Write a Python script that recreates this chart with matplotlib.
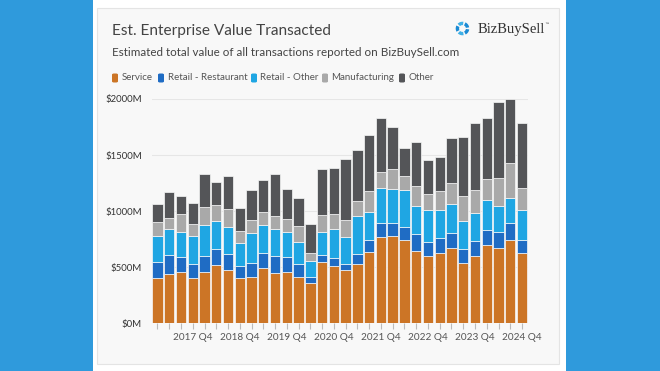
import numpy as np
import matplotlib.pyplot as plt
from matplotlib.patches import Rectangle, Wedge, FancyBboxPatch

# quarterly data, 2017 Q1 .. 2024 Q4 (values in $M)
quarters = [f"{y} Q{q}" for y in range(2017, 2025) for q in range(1, 5)]
service = [407, 440, 455, 401, 455, 523, 473, 407, 416, 496, 452, 461, 413, 363, 544, 514,
           476, 526, 639, 773, 779, 740, 648, 597, 630, 675, 535, 597, 695, 672, 746, 624]
restaurant = [143, 169, 139, 131, 145, 143, 145, 107, 122, 134, 145, 127, 119, 50, 65, 71,
              56, 89, 101, 119, 119, 119, 151, 131, 134, 133, 131, 140, 140, 145, 149, 119]
retail_other = [232, 229, 223, 247, 277, 249, 244, 202, 267, 247, 241, 229, 196, 146, 208, 253,
                241, 345, 253, 318, 297, 330, 250, 282, 244, 253, 246, 250, 262, 232, 225, 270]
manufacturing = [118, 98, 158, 107, 157, 137, 154, 107, 116, 116, 119, 116, 137, 71, 149, 137,
                 148, 131, 184, 136, 184, 125, 175, 146, 175, 190, 220, 202, 193, 247, 313, 197]
other = [161, 238, 163, 190, 297, 205, 301, 205, 268, 288, 371, 262, 255, 256, 410, 413,
         541, 451, 499, 482, 369, 246, 393, 300, 297, 404, 529, 600, 544, 674, 567, 573]

series = [("Service", service, "#cc7526"),
          ("Retail - Restaurant", restaurant, "#1f6cc4"),
          ("Retail - Other", retail_other, "#1fa6e3"),
          ("Manufacturing", manufacturing, "#a9a9a9"),
          ("Other", other, "#545558")]

W, H = 660, 371
fig = plt.figure(figsize=(6.6, 3.71), dpi=100)
fig.patch.set_facecolor("#2f9adc")

def px(x, y):
    return x / W, 1 - y / H

# white strip + card
fig.patches.append(Rectangle((93 / W, 0), (566 - 93) / W, 1, transform=fig.transFigure,
                             facecolor="white", edgecolor="none", zorder=-2))
fig.patches.append(Rectangle(px(97, 364), (559 - 97) / W, (364 - 8) / H, transform=fig.transFigure,
                             facecolor="#f8f8f8", edgecolor="#e4e4e4", linewidth=0.8, zorder=-1))

font = "Lato"
fig.text(*px(112, 31), "Est. Enterprise Value Transacted", fontsize=11.1, color="#444444",
         family=font, va="center", ha="left")
fig.text(*px(112, 52), "Estimated total value of all transactions reported on BizBuySell.com",
         fontsize=8.4, color="#444444", family=font, va="center", ha="left")

# legend
lx = [112, 158, 251, 322, 399]
for (name, _, col), x in zip(series, lx):
    fig.patches.append(FancyBboxPatch(px(x, 82.5), 6 / W, 9 / H, transform=fig.transFigure,
                                      boxstyle="round,pad=0,rounding_size=0.003",
                                      facecolor=col, edgecolor="none"))
    fig.text(*px(x + 9.5, 78), name, fontsize=7.0, color="#555555", family=font,
             va="center", ha="left")

# logo (drawn in inches so the ring stays round)
cx, cy = 462.5 / 100, (H - 28.5) / 100
for i, ang in enumerate(range(10, 360, 72)):
    col = "#1a8ad4" if i % 2 == 0 else "#3fb0e6"
    fig.patches.append(Wedge((cx, cy), 0.068, ang, ang + 54, width=0.034,
                             transform=fig.dpi_scale_trans, facecolor=col, edgecolor="none"))
fig.text(*px(478, 29), "BizBuySell", fontsize=10.5, color="#333333",
         family="Liberation Serif", va="center", ha="left")
fig.text(*px(544.5, 24), "\u2122", fontsize=3.5, color="#333333", va="center", ha="left")

# chart axes
x0, x1 = 151.6, 527.9
y0, y1 = 323.3, 99.0
ax = fig.add_axes([x0 / W, 1 - y0 / H, (x1 - x0) / W, (y0 - y1) / H])
ax.set_zorder(2)
ax.set_facecolor("none")
x = np.arange(len(quarters))
bottom = np.zeros(len(quarters))
for name, vals, col in series:
    ax.bar(x, vals, bottom=bottom, width=0.88, color=col, edgecolor="#f8f8f8",
           linewidth=0.5, zorder=3)
    bottom += np.array(vals)

ax.set_xlim(-0.5, len(quarters) - 0.5)
ax.set_ylim(0, 2000)
ax.set_yticks([0, 500, 1000, 1500, 2000])
ax.set_yticklabels([f"${v}M" for v in [0, 500, 1000, 1500, 2000]])
ax.grid(axis="y", color="#e6e6e6", linewidth=0.8, zorder=0)
ax.tick_params(axis="y", length=0, pad=7, labelsize=6.9, labelcolor="#333333")
for lab in ax.get_yticklabels():
    lab.set_family(font)

ax.set_xticks(x, minor=True)
q4 = [i for i, q in enumerate(quarters) if q.endswith("Q4")]
ax.set_xticks(q4)
ax.set_xticklabels([quarters[i] for i in q4])
ax.tick_params(axis="x", which="both", length=4, color="#bbbbbb", width=0.8,
               labelsize=7.2, labelcolor="#555555", pad=3)
for lab in ax.get_xticklabels():
    lab.set_family(font)
for s in ax.spines.values():
    s.set_visible(False)

fig.savefig("out.png", dpi=100, facecolor=fig.get_facecolor())
